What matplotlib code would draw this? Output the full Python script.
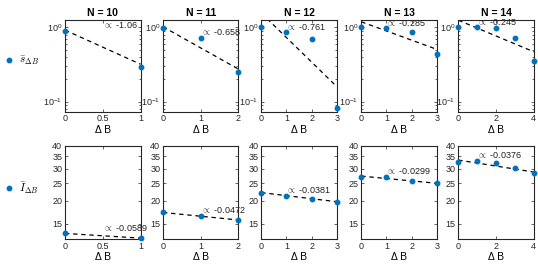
import numpy as np
import matplotlib
matplotlib.use("Agg")
import matplotlib.pyplot as plt
from matplotlib.lines import Line2D

# system sizes and Delta B values
N_values = [10, 11, 12, 13, 14]
dB = [[0, 1], [0, 1, 2], [0, 1, 2, 3], [0, 1, 2, 3], [0, 1, 2, 3, 4]]

# mean s over Delta B (top row)
s_bar = [[0.89, 0.295],
         [0.99, 0.72, 0.25],
         [1.0, 0.86, 0.69, 0.081],
         [1.0, 0.97, 0.86, 0.437],
         [1.0, 1.0, 0.97, 0.73, 0.35]]
s_alpha = [-1.06, -0.658, -0.761, -0.285, -0.245]
s_amp = [0.92, 1.02, 1.56, 1.19, 1.25]

# mean I over Delta B (bottom row)
I_bar = [[13.3, 12.5],
         [17.3, 16.6, 15.8],
         [22.0, 21.4, 20.4, 19.7],
         [27.1, 27.0, 25.7, 25.0],
         [32.7, 33.2, 32.1, 30.3, 28.5]]
I_alpha = [-0.0589, -0.0472, -0.0381, -0.0299, -0.0376]
I_amp = [13.3, 17.3, 22.2, 27.3, 33.4]

xticks = [[0, 0.5, 1], [0, 1, 2], [0, 1, 2, 3], [0, 1, 2, 3], [0, 2, 4]]
I_yticks = [15, 20, 25, 30, 35, 40]

plt.rcParams['font.family'] = ['Liberation Sans', 'DejaVu Sans']
plt.rcParams['mathtext.fontset'] = 'cm'

W, H = 538, 269
fig = plt.figure(figsize=(W / 100, H / 100), dpi=100)

blue = '#0072BD'
frame = '#262626'
lefts = [65, 163, 261.3, 361.3, 458.3]
aw = 75.5
rows = [(19.7, 111.7), (145.7, 239.0)]


def panel(ax, x, y, amp, alpha, xt):
    x = np.array(x, dtype=float)
    y = np.array(y, dtype=float)
    xf = np.linspace(0, x.max(), 100)
    ax.plot(xf, amp * np.exp(alpha * xf), '--', color='black', lw=0.9,
            dashes=(3.5, 3))
    ax.plot(x, y, 'o', color=blue, ms=3.2, clip_on=False, zorder=5)
    if len(x) > 2:
        ax_x, ax_y = x[1], y[1]
    else:
        ax_x, ax_y = x.mean(), y[0]
    ax.annotate(r'$\propto$' + f' {alpha:g}', (ax_x, ax_y), xytext=(0, 0.5),
                textcoords='offset points', ha='left', va='bottom',
                fontsize=6.5, color='#222222')
    ax.set_xlim(0, x.max())
    ax.set_xticks(xt)
    ax.set_xticklabels([f'{t:g}' for t in xt])
    ax.set_xlabel('Δ B', fontsize=7.5, labelpad=1)
    ax.tick_params(which='both', direction='in', top=True, right=True,
                   labelsize=6.5, colors=frame, width=0.5, pad=2)
    ax.tick_params(which='major', length=2.5)
    ax.tick_params(which='minor', length=1.5)
    for sp in ax.spines.values():
        sp.set_color(frame)
        sp.set_linewidth(0.8)
    ax.set_yscale('log')


for j, N in enumerate(N_values):
    for r, (top, bot) in enumerate(rows):
        ax = fig.add_axes([lefts[j] / W, 1 - bot / H, aw / W, (bot - top) / H])
        if r == 0:
            panel(ax, dB[j], s_bar[j], s_amp[j], s_alpha[j], xticks[j])
            ax.set_ylim(0.073, 1.27)
            ax.set_title(f'N = {N}', fontsize=7.5, fontweight='bold', pad=3)
        else:
            panel(ax, dB[j], I_bar[j], I_amp[j], I_alpha[j], xticks[j])
            ax.set_ylim(12.4, 40)
            ax.set_yticks(I_yticks)
            ax.set_yticklabels([str(t) for t in I_yticks])
            ax.yaxis.set_minor_locator(matplotlib.ticker.NullLocator())

# row labels on the left
handle = Line2D([], [], marker='o', color=blue, ls='none', ms=3.2)
for label, yc in [(r'$\bar{s}_{\Delta B}$', 61), (r'$\bar{I}_{\Delta B}$', 188)]:
    fig.legend([handle], [label], loc='center left',
               bbox_to_anchor=(-0.012, 1 - yc / H), frameon=False,
               fontsize=8, handletextpad=0.4, handlelength=1.0)

fig.savefig('out.png', dpi=100)
